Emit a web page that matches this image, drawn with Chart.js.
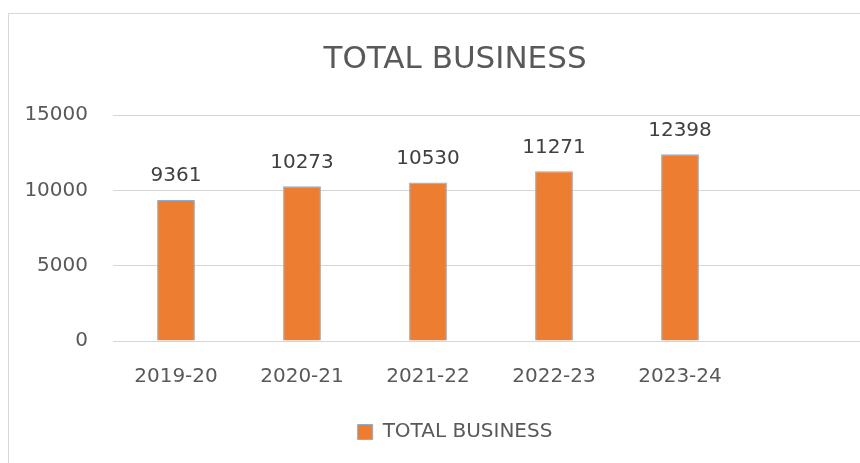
<!DOCTYPE html>
<html>
<head>
<meta charset="utf-8">
<script src="https://cdn.jsdelivr.net/npm/chart.js@4/dist/chart.umd.min.js"></script>
<style>
    html, body { margin: 0; padding: 0; background: #fff; overflow: hidden; }
    body { width: 860px; height: 463px; position: relative; }
    .frame { position: absolute; left: 8px; top: 13px; width: 1000px; height: 1000px; border: 1px solid #d9d9d9; box-sizing: border-box; }
    .wrap { position: absolute; left: 0; top: 0; width: 910px; height: 452px; }
</style>
</head>
<body>
<div class="frame"></div>
<div class="wrap"><canvas id="chBusiness"></canvas></div>
<script>
// total business per year
var years = ['2019-20', '2020-21', '2021-22', '2022-23', '2023-24', ''];
var totalBusiness = [9361, 10273, 10530, 11271, 12398];
var yTicks = [0, 5000, 10000, 15000];

var font = 'DejaVu Sans';
var textColor = '#595959';

// value over each bar
var barValues = {
    id: 'barValues',
    afterDatasetsDraw: function (chart) {
        var ctx = chart.ctx;
        ctx.save();
        ctx.font = '20px "' + font + '"';
        ctx.fillStyle = '#404040';
        ctx.textAlign = 'center';
        ctx.textBaseline = 'middle';
        chart.getDatasetMeta(0).data.forEach(function (bar, i) {
            ctx.fillText(totalBusiness[i], bar.x, bar.y - 24);
        });
        ctx.restore();
    }
};

var chBusiness = document.getElementById('chBusiness');
if (chBusiness) {
    new Chart(chBusiness, {
        type: 'bar',
        data: {
            labels: years,
            datasets: [
                {
                    label: 'TOTAL BUSINESS',
                    data: totalBusiness,
                    backgroundColor: '#ed7d31',
                    borderColor: '#8eaed0',
                    borderWidth: 1,
                    barPercentage: 0.3,
                    categoryPercentage: 1
                }
            ]
        },
        options: {
            responsive: true,
            maintainAspectRatio: false,
            animation: false,
            layout: { padding: 0 },
            plugins: {
                title: {
                    display: true,
                    text: 'TOTAL BUSINESS',
                    color: textColor,
                    font: { family: font, size: 31, weight: 'normal' },
                    padding: { top: 41, bottom: 37 }
                },
                legend: {
                    position: 'bottom',
                    labels: {
                        color: textColor,
                        font: { family: font, size: 20 },
                        boxWidth: 15,
                        boxHeight: 15,
                        padding: 10
                    }
                },
                tooltip: { enabled: false }
            },
            scales: {
                x: {
                    grid: { display: false },
                    border: { display: false },
                    ticks: {
                        color: textColor,
                        font: { family: font, size: 20 },
                        padding: 16,
                        autoSkip: false,
                        maxRotation: 0
                    },
                    afterFit: function (axis) { axis.height = 71; }
                },
                y: {
                    min: 0,
                    max: 15000,
                    grid: { color: '#d6d6d6', drawTicks: false },
                    border: { display: false },
                    ticks: {
                        stepSize: 5000,
                        color: textColor,
                        font: { family: font, size: 20 },
                        padding: 25,
                        callback: function (v) { return String(v); }
                    },
                    afterBuildTicks: function (axis) {
                        axis.ticks = yTicks.map(function (v) { return { value: v }; });
                    },
                    afterFit: function (axis) { axis.width = 113; }
                },
                // empty space on the right so the title stays centred on the frame
                yRight: {
                    position: 'right',
                    grid: { display: false },
                    border: { display: false },
                    ticks: { display: false },
                    afterFit: function (axis) { axis.width = 41; }
                }
            }
        },
        plugins: [barValues]
    });
}
</script>
</body>
</html>
